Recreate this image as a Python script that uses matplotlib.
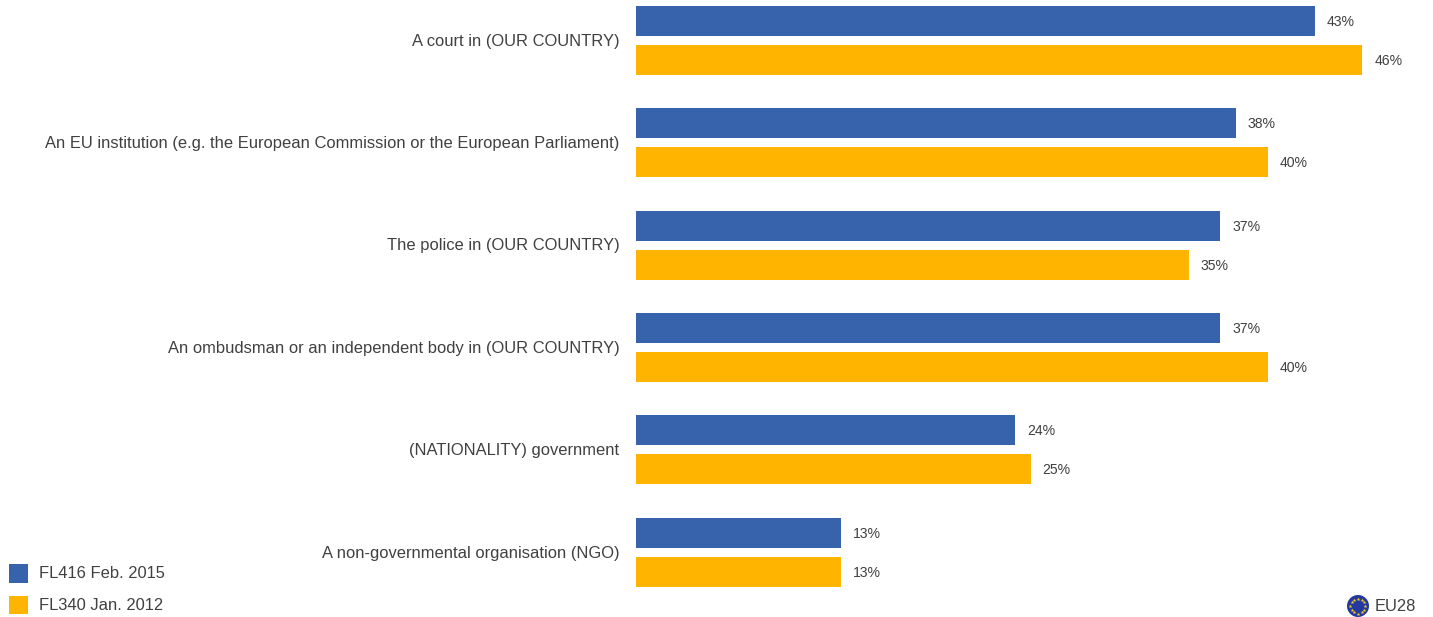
import numpy as np
import matplotlib
matplotlib.use("Agg")
import matplotlib.pyplot as plt
from matplotlib.patches import Rectangle, Circle
from matplotlib.transforms import ScaledTranslation

categories = ["A court in (OUR COUNTRY)",
              "An EU institution (e.g. the European Commission or the European Parliament)",
              "The police in (OUR COUNTRY)",
              "An ombudsman or an independent body in (OUR COUNTRY)",
              "(NATIONALITY) government",
              "A non-governmental organisation (NGO)"]
fl416 = [43, 38, 37, 37, 24, 13]
fl340 = [46, 40, 35, 40, 25, 13]
series_names = ["FL416 Feb. 2015", "FL340 Jan. 2012"]
area_label = "EU28"

BLUE = "#3763AC"
ORANGE = "#FFB400"
TEXT = "#404040"
W, H = 1433, 617
GROUP = 102.4

plt.rcParams["font.family"] = ["Liberation Sans"]

fig = plt.figure(figsize=(W / 100, H / 100), dpi=100)
# axes placed in pixels: 15.79 px per percent, GROUP px per group
ax = fig.add_axes([636 / W, 0, (W - 636) / W, 1])
ax.set_xlim(0, (W - 636) / 15.79)
ax.set_ylim((H - 40.3) / GROUP, -40.3 / GROUP)

y = np.arange(len(categories))
off = 19.5 / GROUP
h = 30 / GROUP
b1 = ax.barh(y - off, fl416, height=h, color=BLUE)
b2 = ax.barh(y + off, fl340, height=h, color=ORANGE)
for b in (b1, b2):
    for lab in ax.bar_label(b, fmt="%d%%", padding=8.5, fontsize=10.1, color=TEXT):
        lab.xyann = (lab.xyann[0], -0.7)

ax.set_yticks(y)
ax.set_yticklabels(categories, fontsize=11.9, color=TEXT)
ax.tick_params(axis="y", length=0, pad=12)
shift = ScaledTranslation(0, 0.5 / 72, fig.dpi_scale_trans)
for lab in ax.get_yticklabels():
    lab.set_transform(lab.get_transform() + shift)
ax.set_xticks([])
for s in ax.spines.values():
    s.set_visible(False)

# overlay in pixel coordinates for legend and flag
ov = fig.add_axes([0, 0, 1, 1], zorder=5)
ov.set_xlim(0, W)
ov.set_ylim(H, 0)
ov.axis("off")

ov.add_patch(Rectangle((9, 564), 19, 19, color=BLUE, lw=0))
ov.add_patch(Rectangle((9, 596), 19, 18, color=ORANGE, lw=0))
ov.text(39, 573.5, series_names[0], fontsize=11.9, color=TEXT, va="center")
ov.text(39, 605, series_names[1], fontsize=11.9, color=TEXT, va="center")

ov.add_patch(Circle((1358, 606), 11, color="#2438A0", lw=0))
ang = np.deg2rad(np.arange(0, 360, 30))
ov.scatter(1358 + 7.5 * np.cos(ang), 606 + 7.5 * np.sin(ang), marker="*", s=8, color="#F2D21B", lw=0)
ov.text(1375, 606.5, area_label, fontsize=11.9, color=TEXT, va="center")

fig.savefig("out.png", dpi=100)
